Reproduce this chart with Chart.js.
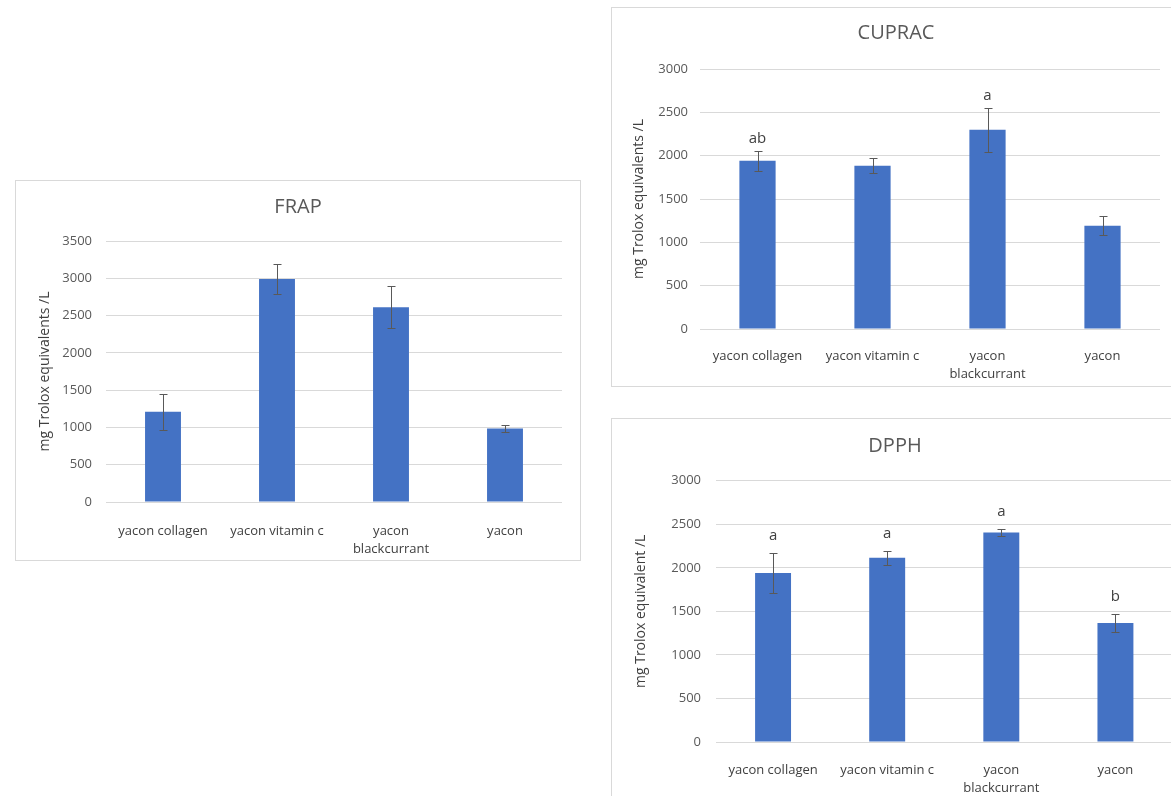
<!DOCTYPE html>
<html>
<head>
<meta charset="utf-8">
<script src="https://cdn.jsdelivr.net/npm/chart.js@4.4.1/dist/chart.umd.min.js"></script>
<style>
  html, body { margin: 0; padding: 0; background: #fff; width: 1171px; height: 796px; overflow: hidden; position: relative; }
  canvas { position: absolute; display: block; }
</style>
</head>
<body>
<canvas id="frap" width="566" height="381" style="left:15px;top:180px;width:566px;height:381px"></canvas>
<canvas id="cuprac" width="570" height="380" style="left:611px;top:7px;width:570px;height:380px"></canvas>
<canvas id="dpph" width="568" height="380" style="left:611px;top:418px;width:568px;height:380px"></canvas>
<script>
// Samples (shared by all three assays)
const categories = ['yacon collagen', 'yacon vitamin c', ['yacon', 'blackcurrant'], 'yacon'];

// FRAP, mg Trolox equivalents / L (mean ± SD)
const frapValues = [1210, 2990, 2610, 985];
const frapErrors = [240, 195, 280, 50];

// CUPRAC, mg Trolox equivalents / L (mean ± SD) and significance letters
const cupracValues = [1940, 1885, 2300, 1190];
const cupracErrors = [115, 85, 255, 110];
const cupracLetters = ['ab', '', 'a', ''];

// DPPH, mg Trolox equivalent / L (mean ± SD) and significance letters
const dpphValues = [1940, 2115, 2405, 1365];
const dpphErrors = [225, 80, 45, 105];
const dpphLetters = ['a', 'a', 'a', 'b'];

// Value axis ranges
const frapAxis = { max: 3500, step: 500 };
const cupracAxis = { max: 3000, step: 500 };
const dpphAxis = { max: 3000, step: 500 };

const FONT = '"Open Sans", "Noto Sans", sans-serif';
const BAR = '#4472C4';
const GRID = '#d9d9d9';

// Light frame around each chart
const framePlugin = {
  id: 'frame',
  beforeDraw(chart) {
    const ctx = chart.ctx;
    ctx.save();
    ctx.fillStyle = '#fff';
    ctx.fillRect(0, 0, chart.width, chart.height);
    ctx.strokeStyle = GRID;
    ctx.lineWidth = 1;
    ctx.strokeRect(0.5, 0.5, chart.width - 1, chart.height - 1);
    ctx.restore();
  }
};

// Symmetric error bars with caps, plus significance letters above them
const errorBarPlugin = {
  id: 'errorBars',
  afterDatasetsDraw(chart, args, opts) {
    const meta = chart.getDatasetMeta(0);
    const y = chart.scales.y;
    const vals = chart.data.datasets[0].data;
    const ctx = chart.ctx;
    ctx.save();
    ctx.strokeStyle = opts.color;
    ctx.lineWidth = 1;
    meta.data.forEach((bar, i) => {
      const err = opts.errors[i];
      const x = Math.round(bar.x) + 0.5;
      const top = Math.round(y.getPixelForValue(vals[i] + err)) + 0.5;
      const bot = Math.round(y.getPixelForValue(vals[i] - err)) + 0.5;
      ctx.beginPath();
      ctx.moveTo(x, top); ctx.lineTo(x, bot);
      ctx.moveTo(x - opts.cap, top); ctx.lineTo(x + opts.cap, top);
      ctx.moveTo(x - opts.cap, bot); ctx.lineTo(x + opts.cap, bot);
      ctx.stroke();
      const letter = opts.letters ? opts.letters[i] : '';
      if (letter) {
        ctx.fillStyle = opts.letterColor;
        ctx.font = '15px ' + FONT;
        ctx.textAlign = 'center';
        ctx.textBaseline = 'alphabetic';
        ctx.fillText(letter, bar.x, top - opts.letterGap);
      }
    });
    ctx.restore();
  }
};

function buildChart(id, cfg) {
  return new Chart(document.getElementById(id), {
    type: 'bar',
    data: {
      labels: categories,
      datasets: [{
        data: cfg.values,
        backgroundColor: BAR,
        borderWidth: 0,
        categoryPercentage: 0.315,
        barPercentage: 1
      }]
    },
    plugins: [framePlugin, errorBarPlugin],
    options: {
      responsive: false,
      animation: false,
      events: [],
      layout: { padding: 0 },
      plugins: {
        legend: { display: false },
        tooltip: { enabled: false },
        title: {
          display: true,
          text: cfg.title,
          color: '#595959',
          font: { family: FONT, size: 20, weight: 'normal', lineHeight: 1.2 },
          padding: { top: cfg.titleTop, bottom: cfg.titleBottom }
        },
        errorBars: {
          errors: cfg.errors,
          letters: cfg.letters,
          letterGap: cfg.letterGap,
          letterColor: '#404040',
          color: '#595959',
          cap: 4
        }
      },
      scales: {
        x: {
          grid: { display: false },
          border: { display: false },
          ticks: {
            color: '#404040',
            padding: cfg.xPad,
            maxRotation: 0,
            autoSkip: false,
            font: { family: FONT, size: 13, lineHeight: 18 / 13 }
          },
          afterFit(scale) { scale.height = cfg.xHeight; }
        },
        y: {
          min: 0,
          max: cfg.axis.max,
          grid: { color: GRID, lineWidth: 1, drawTicks: false },
          border: { display: false },
          ticks: {
            stepSize: cfg.axis.step,
            color: '#595959',
            padding: cfg.yPad,
            font: { family: FONT, size: 13 },
            callback: (v) => String(v)
          },
          title: {
            display: true,
            text: cfg.yTitle,
            color: '#404040',
            font: { family: FONT, size: 14, weight: 'normal', lineHeight: 1.2 },
            padding: { top: cfg.yTitleTop, bottom: 0 }
          },
          afterFit(scale) { scale.width = cfg.yWidth; }
        },
        // empty right-hand margin so the plot stops short of the frame
        margin: {
          type: 'linear',
          position: 'right',
          grid: { display: false },
          border: { display: false },
          ticks: { display: false },
          afterFit(scale) { scale.width = cfg.padRight; }
        }
      }
    }
  });
}

buildChart('frap', {
  title: 'FRAP', yTitle: 'mg Trolox equivalents /L',
  values: frapValues, errors: frapErrors, letters: null, letterGap: 10,
  axis: frapAxis,
  padRight: 19, titleTop: 15, titleBottom: 22,
  yWidth: 91, yPad: 14, yTitleTop: 21.6,
  xHeight: 59, xPad: 12
});

buildChart('cuprac', {
  title: 'CUPRAC', yTitle: 'mg Trolox equivalents /L',
  values: cupracValues, errors: cupracErrors, letters: cupracLetters, letterGap: 9,
  axis: cupracAxis,
  padRight: 21, titleTop: 14, titleBottom: 24,
  yWidth: 89, yPad: 12, yTitleTop: 19.6,
  xHeight: 58, xPad: 10
});

buildChart('dpph', {
  title: 'DPPH', yTitle: 'mg Trolox equivalent /L',
  values: dpphValues, errors: dpphErrors, letters: dpphLetters, letterGap: 14,
  axis: dpphAxis,
  padRight: 6.5, titleTop: 16, titleBottom: 22.7,
  yWidth: 105, yPad: 15, yTitleTop: 21.6,
  xHeight: 56, xPad: 11
});
</script>
</body>
</html>
